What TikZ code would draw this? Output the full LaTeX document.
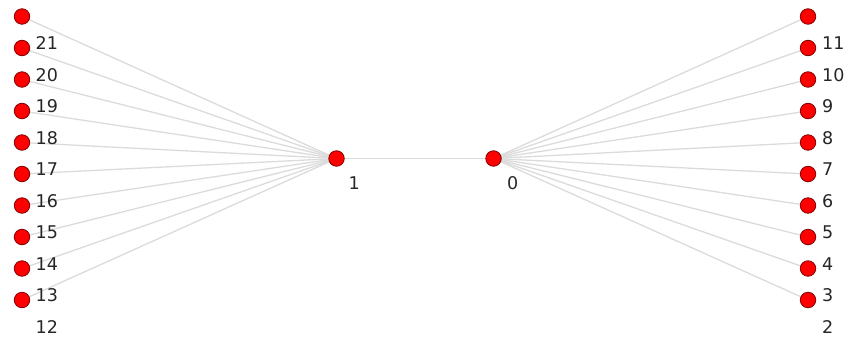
\documentclass[tikz,border=0pt]{standalone}
\usepackage{fontspec}
\setmainfont{DejaVu Sans}
\usetikzlibrary{positioning,calc,backgrounds}

\begin{document}
\begin{tikzpicture}[
  x=1pt, y=-1pt,
  dot/.style={circle, draw=red!50!black, fill=red, line width=0.8pt,
              minimum size=15.5pt, inner sep=0pt},
  lbl/.style={font=\fontsize{17.5}{18}\selectfont, text=black!85,
              inner sep=0pt, anchor=west},
  link/.style={draw=black!14, line width=1.3pt}
]
\useasboundingbox (0,0) rectangle (850,343);
% --- the two hubs ------------------------------------------------------
\node[dot] (n1) at (336.5,158.5) {};
\node[dot] (n0) at (493.5,158.5) {};
\node[lbl] (t1) at ($(n1)+(12,25)$) {1};
\node[lbl] (t0) at ($(n0)+(13.5,25)$) {0};
% --- leaves, left column 21..12 and right column 11..2 -----------------
\foreach \k in {0,...,9} {
  \pgfmathtruncatemacro{\ln}{21-\k}
  \pgfmathtruncatemacro{\rn}{11-\k}
  \node[dot] (l\ln) at (22,16.5+31.5*\k) {};
  \node[dot] (r\rn) at (808,16.5+31.5*\k) {};
  \node[lbl] (tl\ln) at ($(l\ln)+(13.5,27)$) {\ln};
  \node[lbl] (tr\rn) at ($(r\rn)+(14,27)$) {\rn};
}
% --- links -------------------------------------------------------------
\begin{pgfonlayer}{background}
  \draw[link] (n1.center) -- (n0.center);
  \foreach \i in {12,...,21}
    \draw[link] (l\i.center) -- (n1.center);
  \foreach \i in {2,...,11}
    \draw[link] (r\i.center) -- (n0.center);
\end{pgfonlayer}
\end{tikzpicture}
\end{document}
